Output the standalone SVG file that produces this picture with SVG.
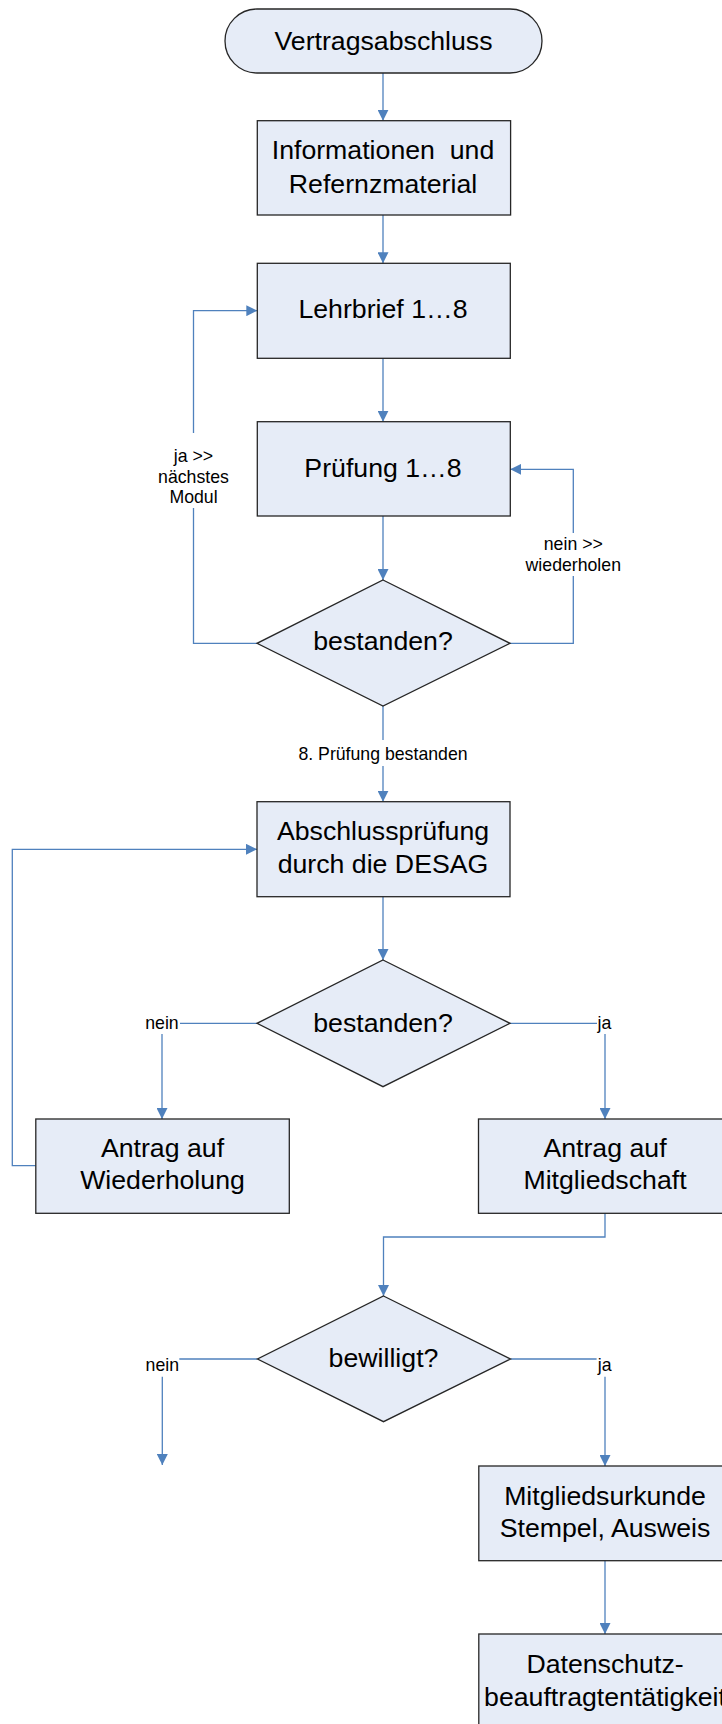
<svg xmlns="http://www.w3.org/2000/svg" width="722" height="1724" viewBox="0 0 722 1724">
<style>
.n{fill:#E6ECF7;stroke:#262626;stroke-width:1.3}
.t{font-family:"Liberation Sans",Arial,sans-serif;font-size:26.7px;fill:#000;text-anchor:middle}
.l{font-family:"Liberation Sans",Arial,sans-serif;font-size:17.7px;fill:#000;text-anchor:middle}
.c{fill:none;stroke:#4F81BD;stroke-width:1.3}
</style>
<defs>
<marker id="a" viewBox="0 0 10 10" refX="10" refY="5" markerWidth="11" markerHeight="11" markerUnits="userSpaceOnUse" orient="auto">
<path d="M0,0 L10,5 L0,10 z" fill="#4F81BD"/>
</marker>
</defs>
<rect width="722" height="1724" fill="#fff"/>
<g id="connectors">
<path class="c" d="M383,73 V120.7" marker-end="url(#a)"/>
<path class="c" d="M383,215 V263.3" marker-end="url(#a)"/>
<path class="c" d="M383,358.3 V421.7" marker-end="url(#a)"/>
<path class="c" d="M383,516 V580" marker-end="url(#a)"/>
<path class="c" d="M257,643.3 H193.5 V508"/>
<path class="c" d="M193.5,433 V310.7 H257.3" marker-end="url(#a)"/>
<path class="c" d="M510,643.3 H573.3 V576"/>
<path class="c" d="M573.3,533 V469.3 H510.3" marker-end="url(#a)"/>
<path class="c" d="M383,706 V740"/>
<path class="c" d="M383,766 V801.7" marker-end="url(#a)"/>
<path class="c" d="M383,896.7 V960" marker-end="url(#a)"/>
<path class="c" d="M257,1023.3 H180"/>
<path class="c" d="M162,1034 V1119" marker-end="url(#a)"/>
<path class="c" d="M510,1023.3 H597"/>
<path class="c" d="M605,1034 V1119" marker-end="url(#a)"/>
<path class="c" d="M35.8,1165.7 H12.3 V849.3 H257" marker-end="url(#a)"/>
<path class="c" d="M605,1213.3 V1237 H383.5 V1296" marker-end="url(#a)"/>
<path class="c" d="M257.5,1359 H179.3"/>
<path class="c" d="M162.3,1376.7 V1465" marker-end="url(#a)"/>
<path class="c" d="M510.5,1359 H596.6"/>
<path class="c" d="M605,1376.7 V1466" marker-end="url(#a)"/>
<path class="c" d="M605,1560.7 V1634" marker-end="url(#a)"/>
<text class="l" x="193.5" y="461.7">ja &gt;&gt;</text>
<text class="l" x="193.5" y="483.3">nächstes</text>
<text class="l" x="193.5" y="503.3">Modul</text>
<text class="l" x="573.3" y="550">nein &gt;&gt;</text>
<text class="l" x="573.3" y="570.7">wiederholen</text>
<text class="l" x="383" y="759.5">8. Prüfung bestanden</text>
<text class="l" x="162" y="1029">nein</text>
<text class="l" x="604.5" y="1029">ja</text>
<text class="l" x="162.3" y="1371">nein</text>
<text class="l" x="604.6" y="1371">ja</text>
</g>
<g id="start">
<rect class="n" x="225" y="9" width="317" height="64" rx="32" ry="32"/>
<text class="t" x="383.5" y="50">Vertragsabschluss</text>
</g>
<g id="info">
<rect class="n" x="257.3" y="120.7" width="253.3" height="94.3"/>
<text class="t" x="383" y="159.3" xml:space="preserve">Informationen  und</text>
<text class="t" x="383" y="192.7">Refernzmaterial</text>
</g>
<g id="lehrbrief">
<rect class="n" x="257.3" y="263.3" width="253" height="95"/>
<text class="t" x="383" y="318.3">Lehrbrief 1…8</text>
</g>
<g id="pruefung">
<rect class="n" x="257.3" y="421.7" width="253" height="94.3"/>
<text class="t" x="383" y="476.7">Prüfung 1…8</text>
</g>
<g id="bestanden1">
<polygon class="n" points="383,580 510,643.3 383,706 257,643.3"/>
<text class="t" x="383" y="650">bestanden?</text>
</g>
<g id="abschluss">
<rect class="n" x="257" y="801.7" width="253" height="95"/>
<text class="t" x="383" y="840">Abschlussprüfung</text>
<text class="t" x="383" y="872.7">durch die DESAG</text>
</g>
<g id="bestanden2">
<polygon class="n" points="383,960 510,1023.3 383,1086.7 257,1023.3"/>
<text class="t" x="383" y="1032">bestanden?</text>
</g>
<g id="wiederholung">
<rect class="n" x="35.8" y="1119" width="253.5" height="94.3"/>
<text class="t" x="162.5" y="1156.7">Antrag auf</text>
<text class="t" x="162.5" y="1189.3">Wiederholung</text>
</g>
<g id="mitgliedschaft">
<rect class="n" x="478.5" y="1119" width="253.5" height="94.3"/>
<text class="t" x="605" y="1156.7">Antrag auf</text>
<text class="t" x="605" y="1189.3">Mitgliedschaft</text>
</g>
<g id="bewilligt">
<polygon class="n" points="383.5,1296 510.5,1359 383.5,1421.7 257.5,1359"/>
<text class="t" x="383.5" y="1366.7">bewilligt?</text>
</g>
<g id="urkunde">
<rect class="n" x="478.8" y="1466" width="253" height="94.7"/>
<text class="t" x="605" y="1505">Mitgliedsurkunde</text>
<text class="t" x="605" y="1537.3">Stempel, Ausweis</text>
</g>
<g id="datenschutz">
<rect class="n" x="478.8" y="1634" width="253" height="95"/>
<text class="t" x="605" y="1673">Datenschutz-</text>
<text class="t" x="605" y="1706">beauftragtentätigkeit</text>
</g>
</svg>
